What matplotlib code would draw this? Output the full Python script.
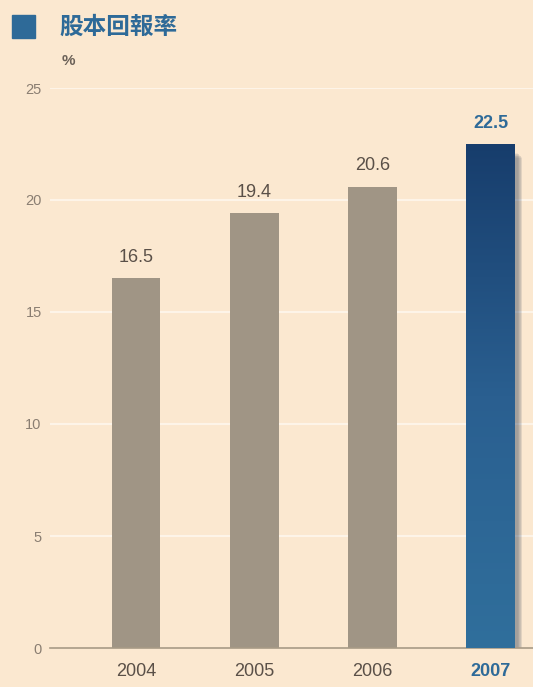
import numpy as np
import matplotlib.pyplot as plt
from matplotlib.patches import Rectangle
from matplotlib.colors import LinearSegmentedColormap

plt.rcParams['font.family'] = ['Liberation Sans', 'Noto Sans CJK TC', 'DejaVu Sans']

years = ['2004', '2005', '2006', '2007']
roe = [16.5, 19.4, 20.6, 22.5]
yticks = [0, 5, 10, 15, 20, 25]
title = '股本回報率'
unit = '%'

W, H = 533, 687
bg = '#fbe8d0'
grey = '#a09585'
blue = '#2e6a98'

fig = plt.figure(figsize=(W / 100, H / 100), dpi=100, facecolor=bg)
ax = fig.add_axes([50 / W, 1 - 648 / H, 483 / W, 560 / H])
ax.set_facecolor(bg)

x = np.arange(len(years))
bw = 0.41

for yv in yticks[1:]:
    ax.axhline(yv, color='#fdf4e8', lw=1.5, zorder=0)

ax.bar(x[:-1], roe[:-1], width=bw, color=grey, zorder=2)

# highlighted last bar: soft shadow + vertical gradient
xl = x[-1] - bw / 2
for k in range(8):
    ax.add_patch(Rectangle((xl + 0.03 + k * 0.005, 0), bw, roe[-1] - 0.4 - k * 0.03,
                           color='#1e3050', alpha=0.06, lw=0, zorder=2))
grad = np.linspace(0, 1, 256).reshape(-1, 1)
cmap = LinearSegmentedColormap.from_list('b', ['#306f9c', '#2a5f90', '#173d6c'])
im = ax.imshow(grad, cmap=cmap, aspect='auto', origin='lower',
               extent=(xl, xl + bw, 0, roe[-1]), zorder=3)
im.set_clip_path(Rectangle((xl, 0), bw, roe[-1], transform=ax.transData))
ax.set_xlim(-0.73, 3.36)
ax.set_ylim(0, 25)

for i, v in enumerate(roe):
    last = i == len(roe) - 1
    ax.text(x[i], v + 0.55, f'{v:.1f}', ha='center', va='bottom',
            fontsize=13, color=blue if last else '#5a5048',
            fontweight='bold' if last else 'normal')

ax.set_xticks(x)
ax.set_xticklabels(years, fontsize=13)
for i, lab in enumerate(ax.get_xticklabels()):
    if i == len(years) - 1:
        lab.set_color(blue)
        lab.set_fontweight('bold')
    else:
        lab.set_color('#5a5048')
ax.set_yticks(yticks)
ax.set_yticklabels([str(t) for t in yticks], fontsize=10.5, color='#8a7e72')
ax.tick_params(axis='x', length=0, pad=11)
ax.tick_params(axis='y', length=0, pad=6)

for s in ['top', 'right', 'left']:
    ax.spines[s].set_visible(False)
ax.spines['bottom'].set_color('#a89a86')
ax.spines['bottom'].set_linewidth(1.2)

fig.patches.append(Rectangle((12 / W, 1 - 38 / H), 23 / W, 23 / H,
                             transform=fig.transFigure, color=blue))
fig.text(59 / W, 1 - 27 / H, title, fontsize=17, fontweight='bold',
         color=blue, va='center', family=['Noto Sans CJK TC', 'DejaVu Sans'])
fig.text(62 / W, 1 - 61 / H, unit, fontsize=11, color='#6b6158', va='center',
         fontweight='bold')

fig.savefig('out.png', dpi=100, facecolor=bg)
